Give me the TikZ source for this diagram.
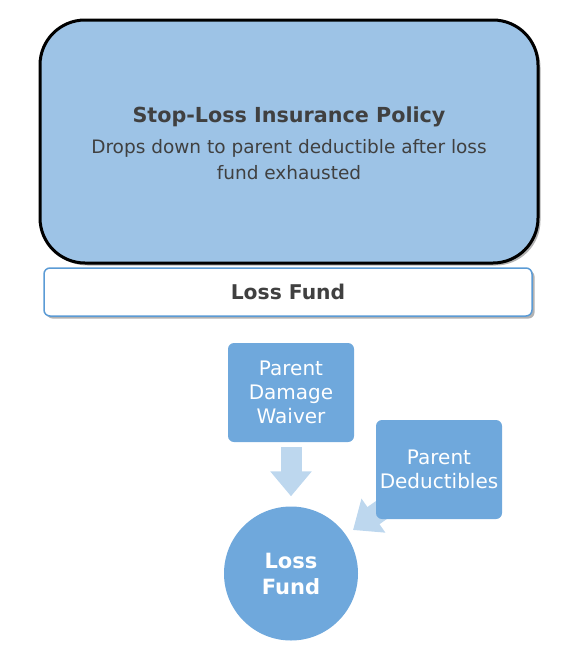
\documentclass[tikz,border=0pt]{standalone}
\usepackage{fontspec}
\setmainfont{DejaVu Sans}
\usetikzlibrary{arrows.meta,positioning,shadows,backgrounds}
\definecolor{policy}{HTML}{9DC3E6}
\definecolor{fundline}{HTML}{5B9BD5}
\definecolor{chip}{HTML}{6FA8DC}
\definecolor{flow}{HTML}{BDD7EE}
\definecolor{ink}{HTML}{404040}

\begin{document}
\begin{tikzpicture}[x=1pt,y=-1pt,
  shade/.style={drop shadow={shadow xshift=2.5pt,shadow yshift=-2.5pt,opacity=0.3,fill=black}},
  chipbox/.style={rounded corners=6pt,fill=chip,text=white,align=center,
    minimum width=126pt,minimum height=99pt,inner sep=0pt,
    font=\fontsize{20}{24}\selectfont},
  flowarrow/.style={flow,line width=21pt,-{Triangle[length=25pt,width=40pt]}}]
  \useasboundingbox (0,0) rectangle (579,659);
  % top: policy over the fund
  \node[shade,draw=black,line width=3pt,fill=policy,rounded corners=45pt,
    minimum width=498pt,minimum height=243pt,inner sep=0pt] (policy) at (289,141.5) {};
  \node[ink,align=center,font=\fontsize{20.7}{24}\selectfont\bfseries] (ptitle) at (289,117)
    {Stop-Loss Insurance Policy};
  \node[ink,align=center,font=\fontsize{18.5}{26}\selectfont,anchor=north] (psub) at (289,136)
    {Drops down to parent deductible after loss\\fund exhausted};
  \node[shade,draw=fundline,line width=1.5pt,fill=white,rounded corners=6pt,
    minimum width=488pt,minimum height=48pt,inner sep=0pt,text=ink,
    font=\fontsize{20.3}{24}\selectfont\bfseries] (fund) at (288,292) {Loss Fund};
  % bottom: what feeds the fund
  \node[chipbox] (waiver) at (291,392.5) {Parent\\Damage\\Waiver};
  \node[circle,fill=chip,minimum size=134pt,inner sep=0pt,text=white,align=center,
    font=\fontsize{21}{26}\selectfont\bfseries] (lossfund) at (291,573.5) {Loss\\Fund};
  \node[chipbox] (deduct) at (439,469.5) {Parent\\Deductibles};
  \coordinate (dtip) at (353,530);
  \begin{scope}[on background layer]
    \draw[flowarrow] (deduct.center) -- (dtip);
  \end{scope}
  \draw[flowarrow,shorten <=5pt,shorten >=10pt] (waiver) -- (lossfund);
\end{tikzpicture}
\end{document}
